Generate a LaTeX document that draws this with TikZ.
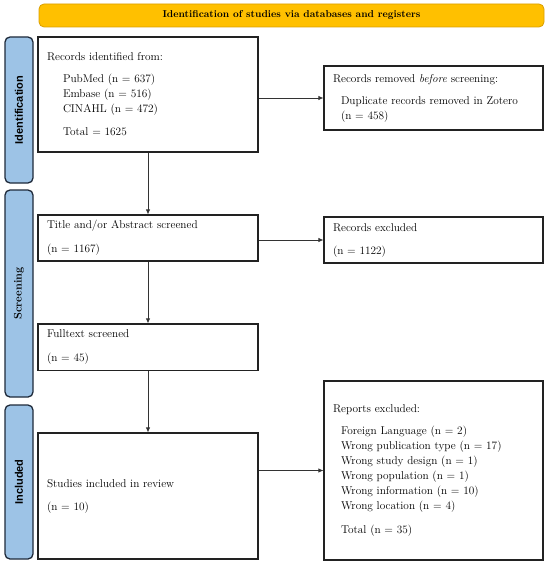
\documentclass[tikz,border=0pt]{standalone}
\usepackage{fontspec}
\setsansfont{Liberation Sans}
\usetikzlibrary{arrows.meta}
\definecolor{sideblue}{HTML}{9DC3E6}
\definecolor{sideborder}{HTML}{1F2A3A}
\definecolor{bannerfill}{HTML}{FFC000}
\definecolor{bannerborder}{HTML}{D99E00}
\definecolor{boxline}{HTML}{222222}
\definecolor{arrline}{HTML}{333333}
\begin{document}
\begin{tikzpicture}[x=1pt,y=-1pt,
  flowbox/.style={draw=boxline, line width=1.1pt, rectangle, inner xsep=9pt, inner ysep=0pt,
    align=left, font=\fontsize{11.3}{15}\selectfont, anchor=center},
  leftbox/.style={flowbox, minimum width=220pt, text width=202pt},
  rightbox/.style={flowbox, minimum width=219pt, text width=201pt},
  sidebox/.style={draw=sideborder, fill=sideblue, line width=1.3pt, rounded corners=5pt,
    rotate=90, minimum height=28pt, inner sep=0pt, anchor=center},
  bannerbox/.style={draw=bannerborder, fill=bannerfill, line width=0.8pt, rounded corners=5pt,
    minimum width=505pt, minimum height=23pt, inner sep=0pt,
    font=\fontsize{10}{12}\selectfont\bfseries},
  arr/.style={draw=arrline, line width=0.8pt, -{Latex[length=5pt,width=4.5pt]}}
]
\useasboundingbox (0,0) rectangle (550,564);

% banner
\node[bannerbox] (banner) at (291.5,15.5) {Identification of studies via databases and registers};

% side labels
\node[sidebox, minimum width=146pt, font=\fontsize{11}{13}\selectfont\sffamily\bfseries] (sideid) at (19,110) {Identification};
\node[sidebox, minimum width=207pt, font=\fontsize{11}{13}\selectfont\rmfamily\bfseries] (sidescr) at (19,293.5) {Screening};
\node[sidebox, minimum width=154pt, font=\fontsize{11}{13}\selectfont\sffamily\bfseries] (sideinc) at (19,482) {Included};

% left column
\node[leftbox, minimum height=115pt] (records) at (148,94.5)
  {Records identified from:\\[7pt]
   \hspace*{16pt}PubMed (n = 637)\\
   \hspace*{16pt}Embase (n = 516)\\
   \hspace*{16pt}CINAHL (n = 472)\\[8pt]
   \hspace*{16pt}Total = 1625};
\node[leftbox, minimum height=46pt] (title) at (148,238)
  {Title and/or Abstract screened\\[9pt](n = 1167)};
\node[leftbox, minimum height=46.5pt] (fulltext) at (148,347.2)
  {Fulltext screened\\[9pt](n = 45)};
\node[leftbox, minimum height=126pt] (studies) at (148,496)
  {Studies included in review\\[8pt](n = 10)};

% right column
\node[rightbox, minimum height=64pt] (removed) at (433.5,98)
  {Records removed \textit{before} screening:\\[7pt]
   \hspace*{8pt}Duplicate records removed in Zotero\\
   \hspace*{8pt}(n = 458)};
\node[rightbox, minimum height=46pt] (excluded) at (433.5,240)
  {Records excluded\\[8pt](n = 1122)};
\node[rightbox, minimum height=179pt] (reports) at (433.5,470.5)
  {Reports excluded:\\[7pt]
   \hspace*{8pt}Foreign Language (n = 2)\\
   \hspace*{8pt}Wrong publication type (n = 17)\\
   \hspace*{8pt}Wrong study design (n = 1)\\
   \hspace*{8pt}Wrong population (n = 1)\\
   \hspace*{8pt}Wrong information (n = 10)\\
   \hspace*{8pt}Wrong location (n = 4)\\[9pt]
   \hspace*{8pt}Total (n = 35)};

% connectors
\draw[arr] (records.south) -- (title.north);
\draw[arr] (title.south) -- (fulltext.north);
\draw[arr] (fulltext.south) -- (studies.north);
\draw[arr] (removed.west -| records.east) -- (removed.west);
\draw[arr] (excluded.west -| title.east) -- (excluded.west);
\draw[arr] (reports.west -| studies.east) -- (reports.west);
\end{tikzpicture}
\end{document}
